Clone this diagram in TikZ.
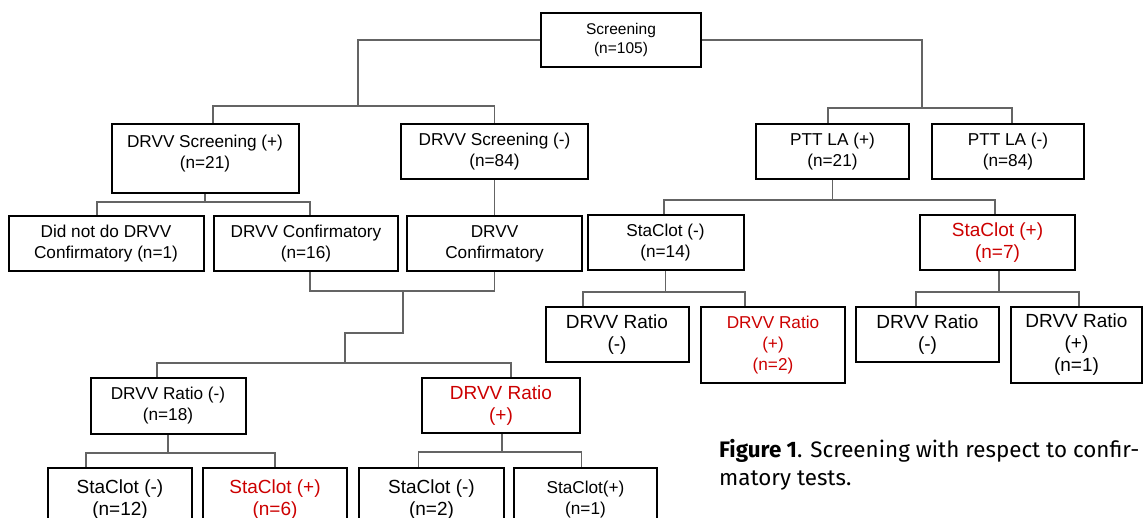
\documentclass[tikz,border=0pt]{standalone}
\usepackage{fontspec}
\setmainfont{Liberation Sans}
\newfontfamily\capfont{Fira Sans}
\definecolor{posred}{RGB}{204,0,0}
\definecolor{linkgray}{RGB}{100,100,100}

\begin{document}
\begin{tikzpicture}[x=1pt, y=-1pt,
    box/.style={draw=black, line width=2pt, align=center, inner sep=2pt, font=\fontsize{17.2pt}{21pt}\selectfont},
    small/.style={font=\fontsize{15.5pt}{19pt}\selectfont},
    big/.style={font=\fontsize{19pt}{22pt}\selectfont},
    hit/.style={text=posred},
    link/.style={draw=linkgray, line width=1.3pt}]
    \useasboundingbox (0,0) rectangle (1143,518);
    \clip (0,0) rectangle (1143,518);

    % first row
    \node[box, small, minimum width=160pt, minimum height=54pt] (scr) at (621,40) {Screening\\(n=105)};

    % second row
    \node[box, minimum width=187pt, minimum height=69pt] (scrp) at (205,158.5) {DRVV Screening (+)\\(n=21)\\[-8pt]\mbox{}};
    \node[box, minimum width=187pt, minimum height=55pt] (scrm) at (494.5,151.5) {DRVV Screening (-)\\(n=84)};
    \node[box, minimum width=153pt, minimum height=55pt] (pttp) at (832.5,151.5) {PTT LA (+)\\(n=21)};
    \node[box, minimum width=152pt, minimum height=55pt] (pttm) at (1008,151.5) {PTT LA (-)\\(n=84)};

    % third row
    \node[box, minimum width=195pt, minimum height=55pt] (nodo) at (106,243.5) {Did not do DRVV\\Confirmatory (n=1)};
    \node[box, minimum width=184pt, minimum height=55pt] (confp) at (306,243.5) {DRVV Confirmatory\\(n=16)};
    \node[box, minimum width=175pt, minimum height=55pt] (confm) at (494.5,243.5) {DRVV\\Confirmatory};
    \node[box, minimum width=156pt, minimum height=55pt] (stm14) at (665.5,242.5) {StaClot (-)\\(n=14)};
    \node[box, big, hit, minimum width=155pt, minimum height=55pt] (stp7) at (997.5,242.5) {StaClot (+)\\(n=7)};

    % ratios under StaClot
    \node[box, big, minimum width=143pt, minimum height=55pt] (rma) at (617,334.5) {DRVV Ratio\\(-)};
    \node[box, hit, minimum width=144pt, minimum height=76pt] (rpa) at (773,345) {DRVV Ratio\\(+)\\(n=2)};
    \node[box, big, minimum width=143pt, minimum height=55pt] (rmb) at (927.5,334.5) {DRVV Ratio\\(-)};
    \node[box, big, minimum width=131pt, minimum height=76pt] (rpb) at (1076.5,345) {DRVV Ratio\\(+)\\(n=1)};

    % ratios under confirmatory
    \node[box, minimum width=155pt, minimum height=56pt] (rm18) at (168,406) {DRVV Ratio (-)\\(n=18)};
    \node[box, big, hit, minimum width=158pt, minimum height=55pt] (rp) at (501,405.5) {DRVV Ratio\\(+)};

    % last row
    \node[box, big, minimum width=144pt, minimum height=64pt] (s12) at (120,500) {StaClot (-)\\(n=12)};
    \node[box, big, hit, minimum width=144pt, minimum height=64pt] (s6) at (275,500) {StaClot (+)\\(n=6)};
    \node[box, big, minimum width=145pt, minimum height=64pt] (s2) at (431.5,500) {StaClot (-)\\(n=2)};
    \node[box, minimum width=143pt, minimum height=64pt] (s1) at (585.5,500) {StaClot(+)\\(n=1)};

    \node[anchor=north west, align=left, inner sep=0pt, font=\capfont\fontsize{22.4pt}{28pt}\selectfont] (caption) at (719,439)
        {\textbf{Figure 1}. Screening with respect to confir-\\matory tests.};

    % connectors
    \coordinate (j1) at (358,106);
    \coordinate (j2) at (922,108);
    \draw[link] (scr.west) -| (j1);
    \draw[link] ([xshift=8pt]scrp.north) |- (j1) -| (scrm.north);
    \draw[link] (scr.east) -| (j2);
    \draw[link] ([xshift=-4.5pt]pttp.north) |- (j2) -| ([xshift=4pt]pttm.north);

    \coordinate (j3) at (205,202);
    \draw[link] (scrp.south) -- (j3);
    \draw[link] ([xshift=-9pt]nodo.north) |- (j3) -| ([xshift=4pt]confp.north);
    \draw[link] (scrm.south) -- (confm.north);

    \coordinate (j4) at (403,291);
    \coordinate (j5) at (345,363);
    \draw[link] ([xshift=4pt]confp.south) |- (j4) -| (confm.south);
    \draw[link] (j4) -- (403,333) -| (j5);
    \draw[link] ([xshift=-11pt]rm18.north) |- (j5) -| ([xshift=10pt]rp.north);

    \coordinate (j6) at (832.5,200);
    \draw[link] (pttp.south) -- (j6);
    \draw[link] ([xshift=-1.5pt]stm14.north) |- (j6) -| ([xshift=-2.5pt]stp7.north);

    \coordinate (j7) at (665.5,292);
    \draw[link] (stm14.south) -- (j7);
    \draw[link] ([xshift=-34pt]rma.north) |- (j7) -| ([xshift=-28pt]rpa.north);
    \coordinate (j8) at (999,292);
    \draw[link] ([xshift=1.5pt]stp7.south) -- (j8);
    \draw[link] ([xshift=-11.5pt]rmb.north) |- (j8) -| ([xshift=2.5pt]rpb.north);

    \coordinate (j9) at (168,453);
    \draw[link] (rm18.south) -- (j9);
    \draw[link] ([xshift=-34pt]s12.north) |- (j9) -| (s6.north);
    \coordinate (j10) at (502,452);
    \draw[link] ([xshift=1pt]rp.south) -- (j10);
    \draw[link] ([xshift=-13pt]s2.north) |- (j10) -| ([xshift=-4pt]s1.north);
\end{tikzpicture}
\end{document}
